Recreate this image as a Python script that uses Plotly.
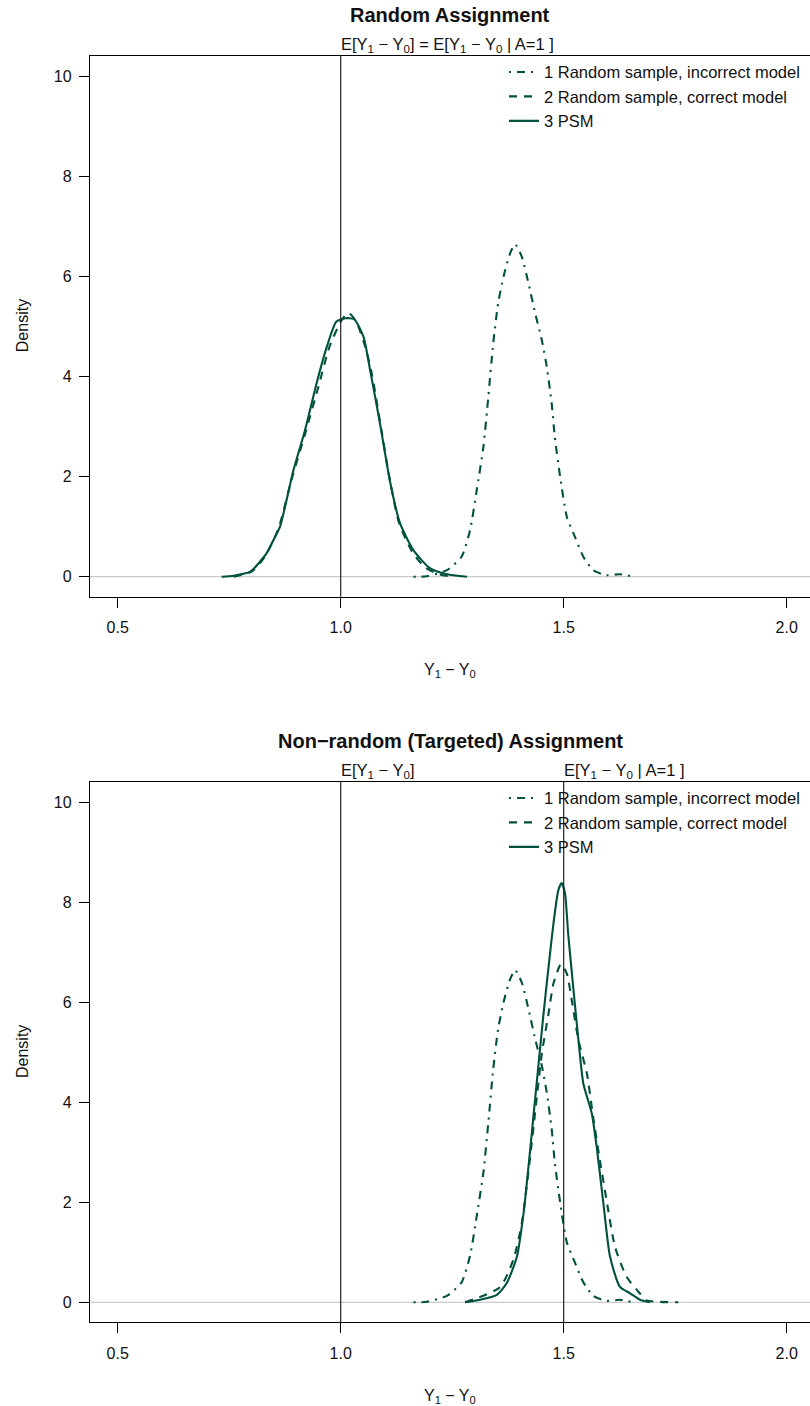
import plotly.graph_objects as go

# ---------------- data ----------------
panel_titles = ["Random Assignment", "Non\u2212random (Targeted) Assignment"]
series_names = ["1 Random sample, incorrect model",
                "2 Random sample, correct model",
                "3 PSM"]

# Top panel: random assignment
top_incorrect_x = [1.163, 1.193, 1.238, 1.271, 1.29, 1.305, 1.32, 1.331, 1.342, 1.353, 1.365, 1.38,
                   1.391, 1.406, 1.421, 1.436, 1.451, 1.462, 1.473, 1.48, 1.492, 1.507, 1.525,
                   1.544, 1.566, 1.596, 1.626, 1.656]
top_incorrect_y = [0, 0.01, 0.13, 0.4, 0.93, 1.73, 2.6, 3.6, 4.67, 5.47, 6.0, 6.47,
                   6.65, 6.4, 5.87, 5.27, 4.73, 4.2, 3.47, 2.8, 2.0, 1.2, 0.8,
                   0.4, 0.13, 0.03, 0.05, 0]
top_correct_x = [0.76, 0.80, 0.83, 0.86, 0.89, 0.92, 0.95, 0.975, 1.0, 1.017, 1.035, 1.055,
                 1.07, 1.09, 1.11, 1.13, 1.16, 1.19, 1.22, 1.25]
top_correct_y = [0, 0.1, 0.4, 0.95, 1.95, 2.85, 3.8, 4.6, 5.1, 5.28, 5.1, 4.6,
                 4.05, 3.0, 1.95, 1.1, 0.5, 0.18, 0.05, 0]
top_psm_x = [0.733, 0.76, 0.797, 0.834, 0.849, 0.864, 0.894, 0.92, 0.946, 0.969, 0.99,
             1.01, 1.03, 1.051, 1.066, 1.088, 1.11, 1.133, 1.163, 1.2, 1.238, 1.283]
top_psm_y = [0, 0.02, 0.1, 0.47, 0.73, 1.0, 2.13, 2.93, 3.87, 4.6, 5.1,
             5.17, 5.15, 4.8, 4.13, 3.07, 1.93, 1.07, 0.53, 0.17, 0.05, 0]

# Bottom panel: non-random (targeted) assignment
bot_incorrect_x = top_incorrect_x
bot_incorrect_y = top_incorrect_y
bot_correct_x = [1.279, 1.357, 1.387, 1.406, 1.424, 1.439, 1.451, 1.466, 1.477, 1.494, 1.507,
                 1.518, 1.533, 1.552, 1.566, 1.581, 1.596, 1.615, 1.641, 1.664, 1.686, 1.716, 1.757]
bot_correct_y = [0, 0.3, 0.85, 1.58, 2.85, 4.05, 4.98, 5.78, 6.38, 6.77, 6.58,
                 6.05, 5.25, 4.58, 3.71, 2.85, 2.05, 1.11, 0.51, 0.25, 0.04, 0.01, 0]
bot_psm_x = [1.279, 1.312, 1.35, 1.372, 1.395, 1.41, 1.421, 1.432, 1.443, 1.454, 1.466, 1.477,
             1.488, 1.4955, 1.503, 1.51, 1.522, 1.533, 1.544, 1.563, 1.574, 1.589, 1.604,
             1.626, 1.649, 1.671, 1.693]
bot_psm_y = [0, 0.05, 0.15, 0.38, 0.91, 1.78, 2.71, 3.71, 4.71, 5.71, 6.71, 7.58,
             8.25, 8.39, 8.18, 7.38, 6.25, 5.25, 4.38, 3.78, 3.11, 1.98, 0.91,
             0.31, 0.18, 0.05, 0]

x_tick_vals = [0.5, 1.0, 1.5, 2.0]
x_tick_text = ["0.5", "1.0", "1.5", "2.0"]
y_tick_vals = [0, 2, 4, 6, 8, 10]
y_tick_text = ["0", "2", "4", "6", "8", "10"]

top_vlines = [1.0]
bot_vlines = [1.0, 1.5]
top_vline_labels = ["E[Y<sub>1</sub> \u2212 Y<sub>0</sub>] = E[Y<sub>1</sub> \u2212 Y<sub>0</sub> | A=1 ]"]
bot_vline_labels = ["E[Y<sub>1</sub> \u2212 Y<sub>0</sub>]",
                    "E[Y<sub>1</sub> \u2212 Y<sub>0</sub> | A=1 ]"]
x_title = "Y<sub>1</sub> \u2212 Y<sub>0</sub>"
y_title = "Density"

# ---------------- styling ----------------
W, H = 810, 1406
FONT = "Liberation Sans, Arial, Helvetica, sans-serif"
GREEN = "#00513E"
dashes = ["2px,6px,8px,6px", "8px,7px", "solid"]
LW = 2.1

def py(px):  # pixel from top -> paper y
    return 1 - px / H

panels = [
    dict(top=55.7, bottom=596.7, series=[(top_incorrect_x, top_incorrect_y),
                                         (top_correct_x, top_correct_y),
                                         (top_psm_x, top_psm_y)],
         vlines=top_vlines, vlabels=top_vline_labels, legend="legend"),
    dict(top=781.7, bottom=1322.3, series=[(bot_incorrect_x, bot_incorrect_y),
                                           (bot_correct_x, bot_correct_y),
                                           (bot_psm_x, bot_psm_y)],
         vlines=bot_vlines, vlabels=bot_vline_labels, legend="legend2"),
]

x_range = [1 + (90 - 340.7) / 446, 1 + (810 - 340.7) / 446]
y_range = [-0.4, 10.42]

fig = go.Figure()
shapes, annotations = [], []
layout = {}

for i, p in enumerate(panels):
    n = "" if i == 0 else str(i + 1)
    xa, ya = "x" + n, "y" + n
    for k, (xs, ys) in enumerate(p["series"]):
        fig.add_trace(go.Scatter(
            x=xs, y=ys, mode="lines", name=series_names[k],
            line=dict(color=GREEN, width=LW, dash=dashes[k], shape="spline", smoothing=0.6),
            xaxis=xa, yaxis=ya, legend=p["legend"], hoverinfo="skip"))
    dom_y = [py(p["bottom"]), py(p["top"])]
    layout["xaxis" + n] = dict(
        domain=[90 / W, 1], range=x_range, anchor=ya,
        tickvals=x_tick_vals, ticktext=x_tick_text,
        ticks="outside", ticklen=10, tickwidth=1, tickcolor="black",
        showline=True, linecolor="black", linewidth=1.3, mirror=True,
        showgrid=False, zeroline=False, ticklabelstandoff=6,
        tickfont=dict(size=16, color="#111", family=FONT))
    layout["yaxis" + n] = dict(
        domain=dom_y, range=y_range, anchor=xa,
        tickvals=y_tick_vals, ticktext=y_tick_text,
        ticks="outside", ticklen=10, tickwidth=1, tickcolor="black",
        showline=True, linecolor="black", linewidth=1.3,
        showgrid=False, zeroline=False, ticklabelstandoff=4,
        tickfont=dict(size=16, color="#111", family=FONT))
    # horizontal zero line (density baseline)
    shapes.append(dict(type="line", xref=xa + " domain", yref=ya, x0=0, x1=1, y0=0, y1=0,
                       line=dict(color="#BDBDBD", width=1), layer="below"))
    # vertical reference lines + their labels
    for v, lab in zip(p["vlines"], p["vlabels"]):
        shapes.append(dict(type="line", xref=xa, yref=ya + " domain", x0=v, x1=v, y0=0, y1=1,
                           line=dict(color="#222", width=1.2), layer="above"))
        annotations.append(dict(text=lab, x=v, xref=xa, y=py(p["top"] - 11), yref="paper",
                                xanchor="left", yanchor="middle", showarrow=False, xshift=-2,
                                font=dict(size=16.5, color="#111", family=FONT)))
    # panel title
    annotations.append(dict(text="<b>" + panel_titles[i] + "</b>", x=450 / W, xref="paper",
                            y=py(p["top"] - 41), yref="paper", xanchor="center", yanchor="middle",
                            showarrow=False, font=dict(size=20, color="#111", family=FONT)))
    # axis titles
    annotations.append(dict(text=x_title, x=450 / W, xref="paper", y=py(p["bottom"] + 74),
                            yref="paper", xanchor="center", yanchor="middle", showarrow=False,
                            font=dict(size=16, color="#111", family=FONT)))
    annotations.append(dict(text=y_title, x=22 / W, xref="paper",
                            y=py((p["top"] + p["bottom"]) / 2), yref="paper", textangle=-90,
                            xanchor="center", yanchor="middle", showarrow=False,
                            font=dict(size=16, color="#111", family=FONT)))
    layout[p["legend"]] = dict(
        x=504 / W, xanchor="left", y=py(p["top"] - 1), yanchor="top",
        bgcolor="rgba(0,0,0,0)", borderwidth=0, tracegroupgap=0,
        font=dict(size=16.5, color="#111", family=FONT))

fig.update_layout(
    width=W, height=H, margin=dict(l=0, r=0, t=0, b=0),
    paper_bgcolor="white", plot_bgcolor="white",
    showlegend=True, shapes=shapes, annotations=annotations,
    font=dict(family=FONT, color="#111"),
    **layout)

fig.write_html("out.html")
